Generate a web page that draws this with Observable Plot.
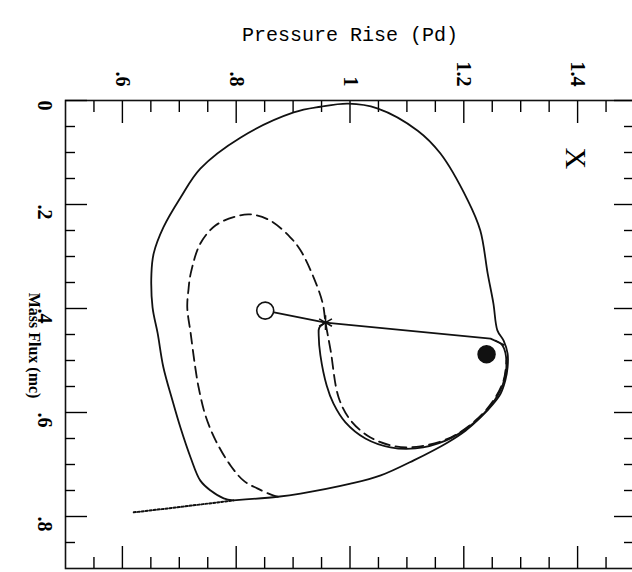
<!DOCTYPE html>
<html>
<head>
<meta charset="utf-8">
<script src="https://cdn.jsdelivr.net/npm/d3@7"></script>
<script src="https://cdn.jsdelivr.net/npm/@observablehq/plot@0.6"></script>
<style>
  html, body { margin: 0; padding: 0; background: #fff; }
  #chart svg { display: block; }
</style>
</head>
<body>
<div id="chart"></div>
<script>
// Pressure Rise (Pd) -> horizontal, Mass Flux (mc) -> vertical (downward)
const pressureMajor = [0.6, 0.8, 1.0, 1.2, 1.4];
const pressureMinor = [0.55, 0.65, 0.7, 0.75, 0.85, 0.9, 0.95, 1.05, 1.1, 1.15, 1.25, 1.3, 1.35, 1.45];
const pressureLabels = [".6", ".8", "1", "1.2", "1.4"];
const fluxMajor = [0, 0.2, 0.4, 0.6, 0.8];
const fluxMinor = [0.05, 0.1, 0.15, 0.25, 0.3, 0.35, 0.45, 0.5, 0.55, 0.65, 0.7, 0.75, 0.85];
const fluxLabels = ["0", ".2", ".4", ".6", ".8"];

// outer solid loop [pressure, mass flux]
const outerP = [0.795,0.778,0.755,0.737,0.720,0.702,0.688,0.672,0.662,0.653,0.651,0.655,0.672,0.702,0.737,0.808,0.901,0.948,0.997,1.048,1.119,1.159,1.207,1.229,1.242,1.252,1.259,1.270,1.277,1.277,1.273,1.265,1.252,1.229,1.203,1.171,1.112,1.054,1.001,0.913,0.873,0.795];
const outerM = [0.769,0.765,0.750,0.731,0.687,0.629,0.577,0.513,0.448,0.398,0.333,0.294,0.244,0.187,0.131,0.071,0.023,0.012,0.006,0.015,0.058,0.102,0.192,0.250,0.333,0.390,0.442,0.462,0.487,0.513,0.538,0.563,0.583,0.610,0.635,0.658,0.692,0.721,0.737,0.756,0.762,0.769];

// dotted approach
const dottedP = [0.620, 0.707, 0.795];
const dottedM = [0.792, 0.781, 0.769];

// dashed loop
const dashedP = [0.873,0.866,0.837,0.813,0.790,0.764,0.746,0.734,0.728,0.720,0.714,0.716,0.720,0.737,0.764,0.799,0.825,0.860,0.895,0.913,0.936,0.952,0.957,0.966,0.980,1.001,1.036,1.080,1.124,1.177,1.221,1.252,1.270,1.275];
const dashedM = [0.762,0.760,0.746,0.731,0.702,0.654,0.606,0.552,0.513,0.448,0.398,0.365,0.333,0.275,0.240,0.223,0.219,0.231,0.263,0.288,0.340,0.390,0.427,0.481,0.571,0.615,0.648,0.665,0.665,0.648,0.615,0.577,0.538,0.500];

// inner solid loop from the star
const innerP = [0.957,0.946,0.945,0.948,0.959,0.971,0.992,1.027,1.071,1.115,1.168,1.212,1.247,1.268,1.275,1.268,1.256];
const innerM = [0.427,0.437,0.452,0.490,0.548,0.583,0.619,0.650,0.667,0.669,0.654,0.625,0.587,0.548,0.504,0.471,0.462];

// straight path: open circle -> star -> lobe
const pathP = [0.851, 0.957, 1.247, 1.261, 1.270];
const pathM = [0.404, 0.427, 0.458, 0.465, 0.470];

const openPt = {p: 0.851, m: 0.404};
const starPt = {p: 0.957, m: 0.427};
const filledPt = {p: 1.240, m: 0.488};
const xMark = {p: 1.397, m: 0.111, label: "X"};

const zip = (P, M) => P.map((p, i) => ({p, m: M[i]}));
const outer = zip(outerP, outerM);
const dotted = zip(dottedP, dottedM);
const dashed = zip(dashedP, dashedM);
const inner = zip(innerP, innerM);
const path = zip(pathP, pathM);

const serif = "'Liberation Serif', 'DejaVu Serif', serif";
const mono = "'Liberation Mono', 'DejaVu Sans Mono', monospace";
const ink = "#111";

const chart = Plot.plot({
  width: 632,
  height: 572,
  marginLeft: 65,
  marginTop: 100,
  marginBottom: 4,
  marginRight: -2,
  style: {background: "#fff", color: "#000", fontFamily: serif},
  x: {domain: [0.5, 1.5], axis: null},
  y: {domain: [0, 0.9], reverse: true, axis: null},
  marks: [
    Plot.frame({stroke: ink, strokeWidth: 1.6}),
    // top ticks
    Plot.axisX(pressureMinor, {anchor: "top", tickSize: -11, text: null, strokeWidth: 1.4, label: null}),
    Plot.axisX(pressureMajor, {anchor: "top", tickSize: -22, text: null, strokeWidth: 1.4, label: null}),
    Plot.axisX(pressureMajor, {anchor: "top", tickSize: 0, tickPadding: 14, tickRotate: 90,
      tickFormat: (d, i) => pressureLabels[i], fontSize: 20, fontWeight: "bold", label: null}),
    // bottom ticks
    Plot.axisX(pressureMinor, {anchor: "bottom", tickSize: -11, text: null, strokeWidth: 1.4, label: null}),
    Plot.axisX(pressureMajor, {anchor: "bottom", tickSize: -22, text: null, strokeWidth: 1.4, label: null}),
    // left ticks
    Plot.axisY(fluxMinor, {anchor: "left", tickSize: -10, text: null, strokeWidth: 1.4, label: null}),
    Plot.axisY(fluxMajor, {anchor: "left", tickSize: -22, text: null, strokeWidth: 1.4, label: null}),
    // right ticks
    Plot.axisY(fluxMinor, {anchor: "right", tickSize: -11, text: null, strokeWidth: 1.4, label: null}),
    Plot.axisY(fluxMajor, {anchor: "right", tickSize: -21, text: null, strokeWidth: 1.4, label: null}),
    // axis title
    Plot.text(["Mass Flux (mc)"], {frameAnchor: "left", textAnchor: "middle", dx: -31, dy: 11, rotate: 90, fontSize: 16, fontWeight: "bold"}),
    // flux labels (left of the frame)
    Plot.text(fluxMajor, {y: d => d, frameAnchor: "left", dx: -21, text: (d, i) => fluxLabels[i],
      rotate: 90, fontSize: 20, fontWeight: "bold"}),
    Plot.text(["Pressure Rise (Pd)"], {frameAnchor: "top", dy: -74, fontSize: 20, fontFamily: mono}),
    // curves
    Plot.line(dotted, {x: "p", y: "m", stroke: ink, strokeWidth: 2, strokeDasharray: "2,2"}),
    Plot.line(outer, {x: "p", y: "m", stroke: ink, strokeWidth: 1.8, curve: "catmull-rom"}),
    Plot.line(dashed, {x: "p", y: "m", stroke: ink, strokeWidth: 1.8, strokeDasharray: "11,6", curve: "catmull-rom"}),
    Plot.line(inner, {x: "p", y: "m", stroke: ink, strokeWidth: 1.8, curve: "catmull-rom"}),
    Plot.line(path, {x: "p", y: "m", stroke: ink, strokeWidth: 1.8}),
    Plot.dot([openPt], {x: "p", y: "m", r: 8.5, stroke: ink, strokeWidth: 1.6, fill: "#fff"}),
    Plot.dot([filledPt], {x: "p", y: "m", r: 8.5, fill: ink, stroke: ink}),
    Plot.dot([starPt], {x: "p", y: "m", r: 7, symbol: "asterisk", stroke: ink, strokeWidth: 1.6}),
    Plot.text([xMark], {x: "p", y: "m", text: "label", rotate: 90, fontSize: 30, fontFamily: serif})
  ]
});
document.getElementById("chart").appendChild(chart);
</script>
</body>
</html>
